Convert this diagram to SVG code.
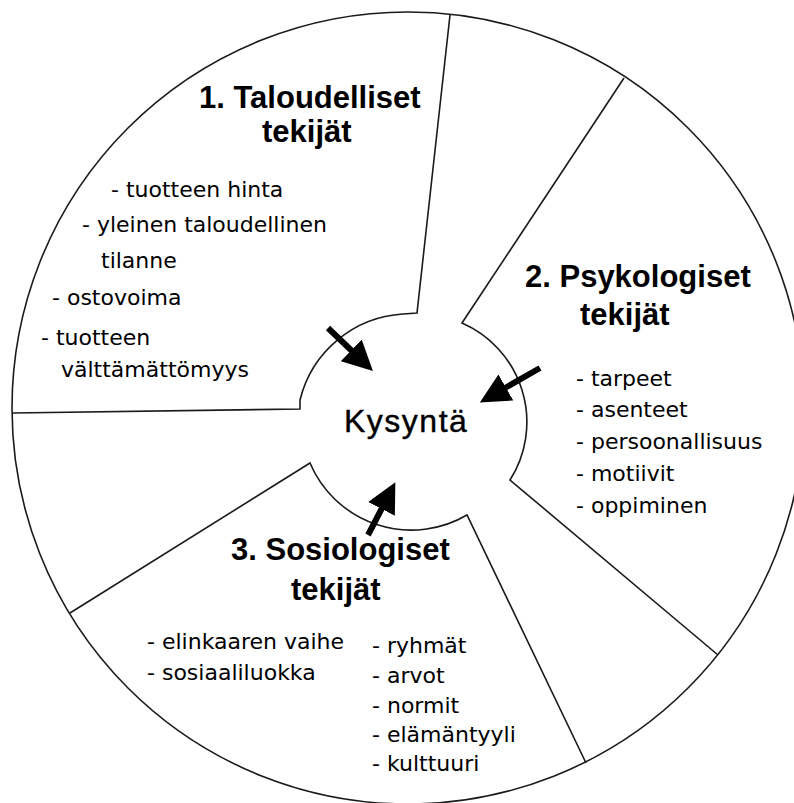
<svg xmlns="http://www.w3.org/2000/svg" width="794" height="803" viewBox="0 0 794 803">
<style>
.ln{fill:none;stroke:#1a1a1a;stroke-width:1.6;stroke-linejoin:miter}
.h{font-family:"Liberation Sans",Arial,sans-serif;font-weight:bold;font-size:31px;fill:#000}
.b{font-family:"DejaVu Sans",sans-serif;font-size:22px;fill:#000}
.c{font-family:"Liberation Sans",Arial,sans-serif;font-size:32px;letter-spacing:1.5px;fill:#000;stroke:#000;stroke-width:0.4}
.ar{stroke:#000;stroke-width:6;fill:none}
</style>
<defs>
<marker id="ah" markerUnits="userSpaceOnUse" markerWidth="31" markerHeight="30" refX="1" refY="15" orient="auto" viewBox="0 0 31 30">
<path d="M0,0 L30,15 L0,30 z" fill="#000"/>
</marker>
</defs>
<rect width="794" height="803" fill="#fff"/>
<g id="outline">
<circle class="ln" cx="408" cy="408" r="396"/>
</g>
<g id="sector-taloudelliset">
<path class="ln" d="M450,15 L417,313 L403,314 A113,113 0 0 0 300,400 L300,409 L13,413"/>
<text class="h" x="199" y="108">1. Taloudelliset</text>
<text class="h" x="262" y="142">tekijät</text>
<text class="b" x="111" y="197">- tuotteen hinta</text>
<text class="b" x="82" y="232">- yleinen taloudellinen</text>
<text class="b" x="101" y="268">tilanne</text>
<text class="b" x="52" y="305">- ostovoima</text>
<text class="b" x="41" y="345">- tuotteen</text>
<text class="b" x="61" y="377">välttämättömyys</text>
</g>
<g id="sector-psykologiset">
<path class="ln" d="M624,78 L462,323 A108,108 0 0 1 510,480 L718,655"/>
<text class="h" x="525" y="287">2. Psykologiset</text>
<text class="h" x="580" y="325">tekijät</text>
<text class="b" x="576" y="386">- tarpeet</text>
<text class="b" x="576" y="417">- asenteet</text>
<text class="b" x="576" y="449">- persoonallisuus</text>
<text class="b" x="576" y="481">- motiivit</text>
<text class="b" x="576" y="513">- oppiminen</text>
</g>
<g id="sector-sosiologiset">
<path class="ln" d="M586,763 L467,515 A110,110 0 0 1 310,463 L70,613"/>
<text class="h" x="231" y="560">3. Sosiologiset</text>
<text class="h" x="291" y="600">tekijät</text>
<text class="b" x="147" y="649">- elinkaaren vaihe</text>
<text class="b" x="147" y="680">- sosiaaliluokka</text>
<text class="b" x="372" y="653">- ryhmät</text>
<text class="b" x="372" y="683">- arvot</text>
<text class="b" x="372" y="713">- normit</text>
<text class="b" x="372" y="742">- elämäntyyli</text>
<text class="b" x="372" y="771">- kulttuuri</text>
</g>
<g id="center-kysynta">
<text class="c" x="344" y="432">Kysyntä</text>
</g>
<g id="connectors">
<line class="ar" x1="328" y1="328" x2="352" y2="351" marker-end="url(#ah)"/>
<line class="ar" x1="540" y1="368" x2="505" y2="388" marker-end="url(#ah)"/>
<line class="ar" x1="368" y1="535" x2="382" y2="508" marker-end="url(#ah)"/>
</g>
</svg>
